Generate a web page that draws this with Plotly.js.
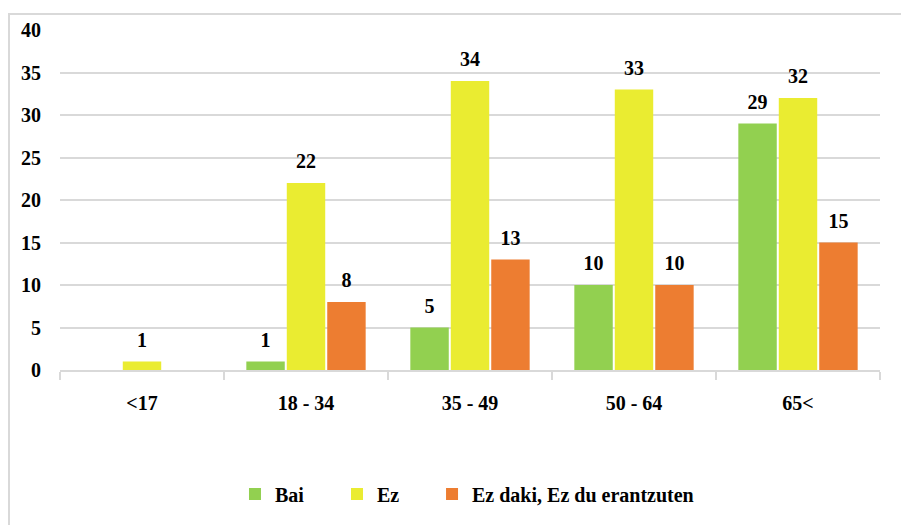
<!DOCTYPE html>
<html>
<head>
<meta charset="utf-8">
<script src="https://cdn.plot.ly/plotly-3.0.1.min.js"></script>
<style>
  html, body { margin: 0; padding: 0; background: #fff; }
  #wrap { position: relative; width: 901px; height: 525px; overflow: hidden; }
  #chart { position: absolute; left: 0; top: 0; width: 901px; height: 525px; }
  #frame { position: absolute; left: 8px; top: 13px; width: 1000px; height: 1000px;
           border: 2px solid #d9d9d9; box-sizing: border-box; pointer-events: none; }
</style>
</head>
<body>
<div id="wrap"><div id="chart"></div><div id="frame"></div></div>
<script>
const categories = ['<17', '18 - 34', '35 - 49', '50 - 64', '65<'];
const seriesNames = ['Bai', 'Ez', 'Ez daki, Ez du erantzuten'];
const bai = [null, 1, 5, 10, 29];
const ez = [1, 22, 34, 33, 32];
const ezDaki = [null, 8, 13, 10, 15];
const yTicks = [0, 5, 10, 15, 20, 25, 30, 35, 40];

const colors = ['#92D050', '#EAEC31', '#ED7D31'];
const seriesValues = [bai, ez, ezDaki];
const FONT = 'Liberation Serif';
const legendIds = ['legend', 'legend2', 'legend3'];
const legendX = [0.2134, 0.3378, 0.4537];

const esc = s => String(s).replace(/&/g, '&amp;').replace(/</g, '&lt;').replace(/>/g, '&gt;');
const bold = s => '<b>' + esc(s) + '</b>';

const traces = [];
seriesValues.forEach((vals, i) => {
  traces.push({
    type: 'bar', name: bold(seriesNames[i]), x: categories, y: vals,
    marker: { color: colors[i] }, hoverinfo: 'skip', legend: legendIds[i]
  });
});
seriesValues.forEach((vals, i) => {
  traces.push({
    type: 'scatter', mode: 'markers+text', x: categories, y: vals,
    text: vals.map(v => v == null ? '' : bold(v)),
    textposition: 'top center',
    textfont: { family: FONT, size: 20, color: '#000' },
    marker: { size: 14, opacity: 0 },
    showlegend: false, hoverinfo: 'skip', cliponaxis: false
  });
});

const baseFont = { family: FONT, size: 20, color: '#000' };
const layout = {
  width: 901, height: 525,
  margin: { l: 60, r: 21, t: 30, b: 153 },
  paper_bgcolor: 'rgba(0,0,0,0)', plot_bgcolor: '#fff',
  barmode: 'group', bargap: 0.26, bargroupgap: 0.05,
  scattermode: 'group', scattergap: 0.26,
  font: baseFont,
  xaxis: {
    type: 'category', showline: true, linecolor: '#d9d9d9', linewidth: 2,
    tickmode: 'array', tickvals: categories, ticktext: categories.map(bold),
    ticks: 'outside', tickson: 'boundaries', ticklen: 8, tickcolor: '#d9d9d9', tickwidth: 2,
    showgrid: false, ticklabelstandoff: 14, tickfont: baseFont
  },
  yaxis: {
    range: [0, 40], tickmode: 'array', tickvals: yTicks, ticktext: yTicks.map(bold),
    showgrid: true, gridcolor: '#d9d9d9', gridwidth: 2,
    zeroline: false, showline: false, ticks: '', ticklabelstandoff: 18, tickfont: baseFont
  },
  showlegend: true
};
legendIds.forEach((id, i) => {
  layout[id] = {
    orientation: 'h', x: legendX[i], xanchor: 'left', y: -0.365, yanchor: 'middle',
    bgcolor: 'rgba(0,0,0,0)', font: baseFont
  };
});

Plotly.newPlot('chart', traces, layout, { displayModeBar: false, staticPlot: true });
</script>
</body>
</html>
